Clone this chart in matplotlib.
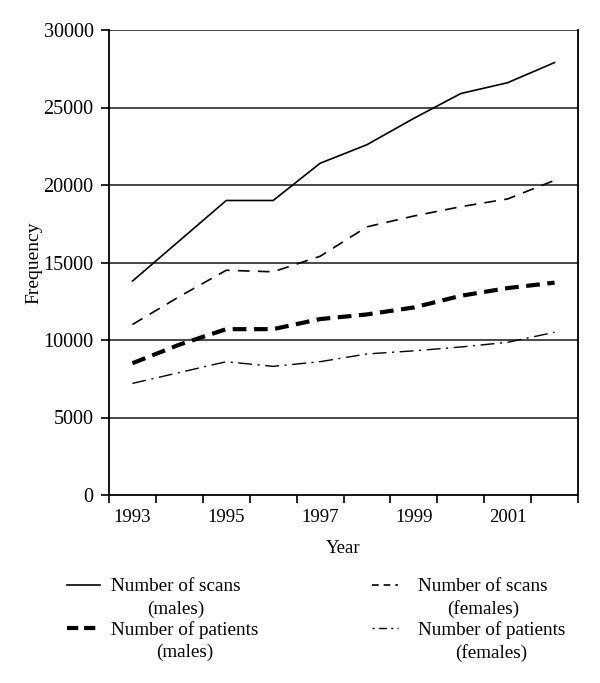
import numpy as np
import matplotlib
matplotlib.use("Agg")
import matplotlib.pyplot as plt
from matplotlib.lines import Line2D

plt.rcParams['font.family'] = ['Liberation Serif', 'DejaVu Serif']

# data
years = [1993, 1994, 1995, 1996, 1997, 1998, 1999, 2000, 2001, 2002]
scans_males = [13800, 16400, 19000, 19000, 21400, 22600, 24300, 25900, 26600, 27900]
scans_females = [11000, 12800, 14500, 14400, 15400, 17300, 18000, 18600, 19100, 20300]
patients_males = [8500, 9700, 10700, 10700, 11350, 11650, 12100, 12850, 13350, 13700]
patients_females = [7200, 7900, 8600, 8300, 8600, 9100, 9300, 9550, 9850, 10500]
year_labels = ['1993', '1995', '1997', '1999', '2001']
y_ticks = [0, 5000, 10000, 15000, 20000, 25000, 30000]

W, H = 600, 683
fig = plt.figure(figsize=(W / 100, H / 100), dpi=100)
ax = fig.add_axes([109 / W, 1 - 495 / H, (578 - 109) / W, (495 - 30) / H])

x = np.arange(len(years))
styles = {
    'sm': dict(color='black', lw=1.2),
    'pm': dict(color='black', lw=3.0, dashes=(3.3, 1.8)),
    'sf': dict(color='black', lw=1.2, dashes=(7, 5)),
    'pf': dict(color='black', lw=1.0, dashes=(10, 4, 1.5, 4)),
}
# shorter dash patterns for the small legend handles
handle_dashes = {'pm': (2.7, 1.4), 'sf': (4, 3), 'pf': (1.5, 3, 6, 3)}

ax.plot(x, scans_males, **styles['sm'])
ax.plot(x, patients_males, **styles['pm'])
ax.plot(x, scans_females, **styles['sf'])
ax.plot(x, patients_females, **styles['pf'])

ax.set_ylim(0, 30000)
ax.set_yticks(y_ticks)
ax.set_yticklabels([str(v) for v in y_ticks])
for v in y_ticks[1:]:
    ax.axhline(v, color='#3a3a3a', lw=1.3, zorder=0)

ax.set_xlim(-0.5, len(years) - 0.5)
ax.set_xticks(np.arange(len(years) + 1) - 0.5)
ax.set_xticklabels([])
ax.set_xticks(x[::2], minor=True)
ax.set_xticklabels(year_labels, minor=True)
ax.tick_params(axis='both', which='major', length=6, width=1.2)
ax.tick_params(axis='y', labelsize=14.5, pad=5)
ax.tick_params(axis='x', which='minor', length=0, pad=10, labelsize=13.5)

for s in ['left', 'bottom', 'right']:
    ax.spines[s].set_linewidth(1.3)
ax.spines['top'].set_visible(False)

ax.set_xlabel('Year', fontsize=13.5, labelpad=10)
ax.set_ylabel('Frequency', fontsize=14)
ax.yaxis.set_label_coords(-(109 - 42) / (578 - 109), 0.5)

# legend drawn by hand: handle sits on the first text line
legend_items = [
    ('sm', 'Number of scans\n(males)', 67, 100, 111, 586),
    ('pm', 'Number of patients\n(males)', 67, 100, 111, 629),
    ('sf', 'Number of scans\n(females)', 372, 398, 418, 586),
    ('pf', 'Number of patients\n(females)', 372, 398, 418, 629),
]
for key, label, hx0, hx1, tx, ty in legend_items:
    st = dict(styles[key])
    if key in handle_dashes:
        st['dashes'] = handle_dashes[key]
    fig.add_artist(Line2D([hx0 / W, hx1 / W], [1 - (ty - 1) / H] * 2,
                          transform=fig.transFigure, **st))
    fig.text(tx / W, 1 - (ty - 8) / H, label, ha='left', va='top',
             multialignment='center', fontsize=13.8, linespacing=1.4)

fig.savefig('out.png', dpi=100)
